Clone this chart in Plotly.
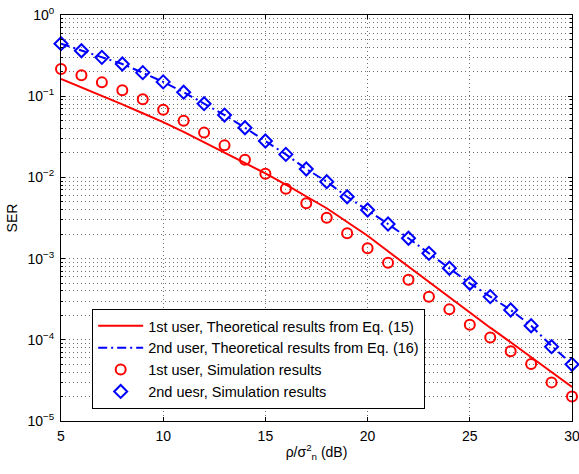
import plotly.graph_objects as go

snr_db = list(range(5, 31))

theory_user1 = [0.163, 0.129, 0.101, 0.0794, 0.0617, 0.0479, 0.0363, 0.0272, 0.0204, 0.0151,
                0.0112, 0.00813, 0.00589, 0.00417, 0.00282, 0.00191, 0.00123, 0.000794, 0.000513,
                0.000331, 0.000214, 0.000141, 9.33e-5, 6.17e-5, 4.07e-5, 2.63e-5]

theory_user2 = [0.443, 0.363, 0.301, 0.249, 0.195, 0.150, 0.112, 0.0809, 0.0586, 0.0409,
                0.0281, 0.0192, 0.0127, 0.00885, 0.00578, 0.00397, 0.00267, 0.00178, 0.00116,
                0.00076, 0.000496, 0.00034, 0.000233, 0.000149, 8.4e-5, 5.0e-5]

sim_user1 = [0.216, 0.181, 0.148, 0.118, 0.0916, 0.0683, 0.050, 0.0356, 0.0248, 0.0165,
             0.0111, 0.00725, 0.0048, 0.00319, 0.00205, 0.00134, 0.00089, 0.00055, 0.00034,
             0.000237, 0.000153, 0.000107, 7.21e-5, 5.03e-5, 2.99e-5, 2.0e-5]

sim_user2 = [0.443, 0.363, 0.301, 0.249, 0.195, 0.150, 0.112, 0.0809, 0.0586, 0.0409,
             0.0281, 0.0192, 0.0127, 0.00885, 0.00578, 0.00397, 0.00267, 0.00178, 0.00116,
             0.00076, 0.000496, 0.00034, 0.000233, 0.000149, 8.22e-5, 4.99e-5]

legend_names = ["1st user, Theoretical results from Eq. (15)",
                "2nd user, Theoretical results from Eq. (16)",
                "1st user, Simulation results",
                "2nd uesr, Simulation results"]

x_ticks = [5, 10, 15, 20, 25, 30]
y_ticks = [1e-5, 1e-4, 1e-3, 1e-2, 1e-1, 1]
y_ticktext = ["10<sup>−5</sup>", "10<sup>−4</sup>", "10<sup>−3</sup>",
              "10<sup>−2</sup>", "10<sup>−1</sup>", "10<sup>0</sup>"]
y_minor = [m * 10 ** e for e in range(-5, 0) for m in range(2, 10)]

RED = "#FF0000"
BLUE = "#0000FF"
FONT = "Liberation Sans, Arial, sans-serif"

fig = go.Figure()
fig.add_trace(go.Scatter(x=snr_db, y=theory_user1, mode="lines", name=legend_names[0],
                         line=dict(color=RED, width=2), cliponaxis=False))
fig.add_trace(go.Scatter(x=snr_db, y=theory_user2, mode="lines", name=legend_names[1],
                         line=dict(color=BLUE, width=2, dash="9px,4px,2px,4px"), cliponaxis=False))
fig.add_trace(go.Scatter(x=snr_db, y=sim_user1, mode="markers", name=legend_names[2],
                         marker=dict(symbol="circle-open", size=10, color=RED,
                                     line=dict(color=RED, width=2)), cliponaxis=False))
fig.add_trace(go.Scatter(x=snr_db, y=sim_user2, mode="markers", name=legend_names[3],
                         marker=dict(symbol="diamond-open", size=10, color=BLUE,
                                     line=dict(color=BLUE, width=2)), cliponaxis=False))

grid_color = "#707070"
fig.update_layout(
    width=579, height=474,
    margin=dict(l=61, r=7, t=15, b=53),
    paper_bgcolor="white", plot_bgcolor="white",
    font=dict(family=FONT, size=14, color="black"),
    showlegend=True,
    legend=dict(x=0.061, y=0.276, xanchor="left", yanchor="top",
                bgcolor="white", bordercolor="black", borderwidth=1,
                font=dict(family=FONT, size=14.5), itemwidth=45,
                tracegroupgap=0),
    xaxis=dict(range=[5, 30], tickmode="array", tickvals=x_ticks,
               ticks="inside", ticklen=4, tickcolor="black",
               showline=True, linecolor="black", linewidth=1, mirror="allticks",
               showgrid=True, gridcolor=grid_color, griddash="1px,3px", gridwidth=1,
               zeroline=False, automargin=False, ticklabelstandoff=2,
               ticklabeloverflow="allow",
               title=dict(text="ρ/σ<sup>2</sup><sub>n</sub> (dB)", standoff=4,
                          font=dict(family=FONT, size=14))),
    yaxis=dict(type="log", range=[-5, 0], tickmode="array", tickvals=y_ticks,
               ticktext=y_ticktext,
               ticks="inside", ticklen=4, tickcolor="black",
               showline=True, linecolor="black", linewidth=1, mirror="allticks",
               showgrid=True, gridcolor=grid_color, griddash="1px,3px", gridwidth=1,
               zeroline=False, ticklabelstandoff=3, automargin=False,
               ticklabeloverflow="allow",
               minor=dict(tickmode="array", tickvals=y_minor, ticks="inside", ticklen=2,
                          tickcolor="black", showgrid=True, gridcolor=grid_color,
                          griddash="1px,3px", gridwidth=1),
               title=dict(text="SER", standoff=6, font=dict(family=FONT, size=14))),
)

fig.write_html("out.html", config={"displayModeBar": False},
               post_script="document.body.style.margin='0px';")
